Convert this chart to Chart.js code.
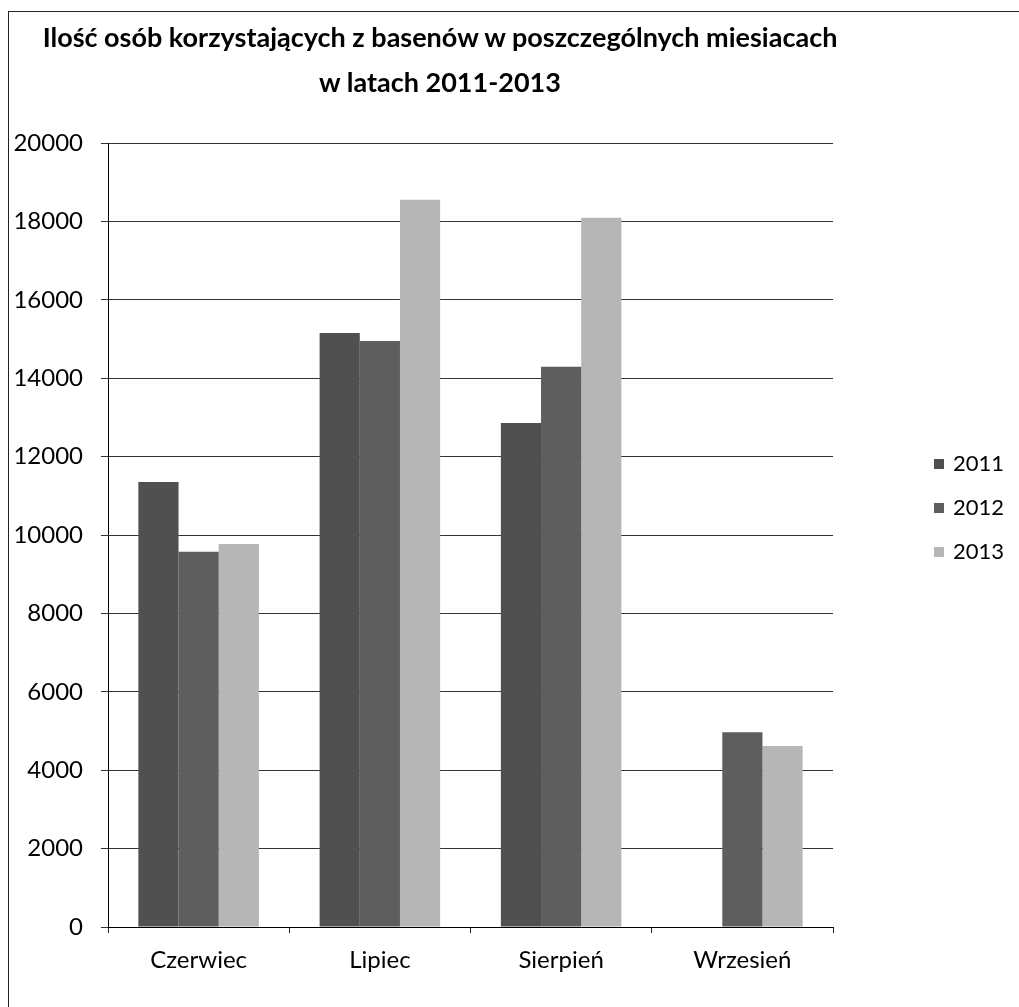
<!DOCTYPE html>
<html>
<head>
<meta charset="utf-8">
<script src="https://cdn.jsdelivr.net/npm/chart.js@4.4.0/dist/chart.umd.min.js"></script>
<style>
  html, body { margin: 0; padding: 0; background: #fff; }
  body { width: 1019px; height: 1007px; position: relative; overflow: hidden; font-family: Lato, "Open Sans", sans-serif; }
  #frame { position: absolute; left: 8px; top: 11px; width: 1030px; height: 1030px; border: 1px solid #222; }
  #wrap { position: absolute; left: 0; top: 0; width: 1019px; height: 1007px; }
  .title { position: absolute; left: 40px; width: 800px; text-align: center; font-weight: bold; font-size: 27px; line-height: 32px; color: #000; white-space: nowrap; }
  .leg { position: absolute; left: 934px; font-size: 22px; line-height: 26px; color: #000; }
  .leg span { display: inline-block; width: 10px; height: 10px; margin-right: 9px; vertical-align: 2px; }
</style>
</head>
<body>
<div id="frame"></div>
<div id="wrap"><canvas id="chart" width="1019" height="1007"></canvas></div>
<div class="title" style="top:21px">Ilość osób korzystających z basenów w poszczególnych miesiacach</div>
<div class="title" style="top:66px">w latach 2011-2013</div>
<div id="legend"></div>
<script>
const months = ["Czerwiec", "Lipiec", "Sierpień", "Wrzesień"];
const years = ["2011", "2012", "2013"];
const v2011 = [11350, 15150, 12860, null];
const v2012 = [9570, 14950, 14290, 4970];
const v2013 = [9770, 18550, 18090, 4620];
const yearColors = ["#505050", "#5e5e5e", "#b6b6b6"];

const tickFont = { family: "Lato, 'Open Sans', sans-serif", size: 24 };

// legend on the right, same order as the datasets
const legend = document.getElementById("legend");
years.forEach((y, i) => {
  const d = document.createElement("div");
  d.className = "leg";
  d.style.top = (450 + i * 44) + "px";
  d.innerHTML = '<span style="background:' + yearColors[i] + '"></span>' + y;
  legend.appendChild(d);
});

new Chart(document.getElementById("chart"), {
  type: "bar",
  data: {
    labels: months,
    datasets: [
      { label: years[0], data: v2011, backgroundColor: yearColors[0] },
      { label: years[1], data: v2012, backgroundColor: yearColors[1] },
      { label: years[2], data: v2013, backgroundColor: yearColors[2] },
    ],
  },
  options: {
    responsive: false,
    animation: false,
    layout: { padding: { left: 8, right: 186, top: 143, bottom: 20 } },
    datasets: { bar: { categoryPercentage: 0.665, barPercentage: 1.0 } },
    plugins: {
      legend: { display: false },
      title: { display: false },
      tooltip: { enabled: false },
    },
    scales: {
      x: {
        grid: { drawOnChartArea: false, drawTicks: true, tickLength: 6, color: "#222" },
        border: { color: "#000" },
        ticks: { color: "#000", font: tickFont, padding: 13 },
        afterFit(scale) { scale.height = 60; },
      },
      y: {
        min: 0,
        max: 20000,
        ticks: { stepSize: 2000, color: "#000", font: tickFont, padding: 18, callback: (v) => String(v) },
        grid: { color: "#333", drawTicks: true, tickLength: 7 },
        border: { color: "#000" },
        afterFit(scale) { scale.width = 100; },
      },
    },
  },
});
</script>
</body>
</html>
